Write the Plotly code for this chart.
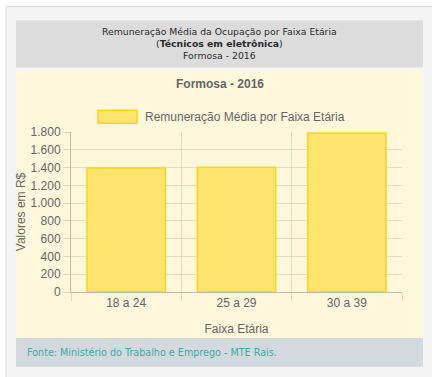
import plotly.graph_objects as go

# Data
faixas = ["18 a 24", "25 a 29", "30 a 39"]
remuneracao = [1395, 1404, 1789]
y_ticks = [0, 200, 400, 600, 800, 1000, 1200, 1400, 1600, 1800]

W, H = 432, 377
L, R, T, B = 71, 402, 131.7, 292  # plot area in pixels


def px(x):
    return (x - L) / (R - L)


def py(y):
    return (B - y) / (B - T)


BAR_FILL = "#fde46c"
BAR_LINE = "#fcd41a"
GREY_TXT = "#666666"
ARIAL = "Liberation Sans, Arial, sans-serif"
VERDANA = "DejaVu Sans, Verdana, sans-serif"

fig = go.Figure()
fig.add_trace(go.Bar(
    x=faixas, y=remuneracao, name="Remuneração Média por Faixa Etária",
    marker=dict(color=BAR_FILL, line=dict(color=BAR_LINE, width=1.5)),
    width=0.71, showlegend=False,
))


def rect(x0, y0, x1, y1, fill, line=None, lw=0, layer="below"):
    return dict(type="rect", xref="paper", yref="paper",
                x0=px(x0), x1=px(x1), y0=py(y1), y1=py(y0),
                fillcolor=fill, line=dict(color=line or fill, width=lw), layer=layer)


shapes = [
    rect(6, 6, 445, 390, "#f4f4f4", "#d9d9d9", 1),
    rect(16, 20, 423, 67, "#dcdcdc"),
    rect(16, 70, 423, 338, "#fff7dc"),
    rect(16, 338, 423, 367, "#d3d9df"),
    rect(98, 110, 137, 123, BAR_FILL, BAR_LINE, 1.5, "above"),
]


def text(x, y, s, size, color, font, xanchor="center"):
    return dict(xref="paper", yref="paper", x=px(x), y=py(y), text=s,
                showarrow=False, xanchor=xanchor, yanchor="middle",
                font=dict(size=size, color=color, family=font))


header = ("Remuneração Média da Ocupação por Faixa Etária<br>"
          "(<b>Técnicos em eletrônica</b>)<br>"
          "Formosa - 2016")

annotations = [
    text(219, 43.5, header, 9.3, "#2a2a2a", VERDANA),
    text(220, 84, "<b>Formosa - 2016</b>", 12, GREY_TXT, ARIAL),
    text(143, 116.5, "Remuneração Média por Faixa Etária", 12, GREY_TXT, ARIAL, "left"),
    text(25, 352.5, "Fonte: Ministério do Trabalho e Emprego - MTE Rais.", 9.6, "#3aa9a9", VERDANA, "left"),
]

fig.update_layout(
    width=W, height=H,
    margin=dict(l=L, r=W - R, t=T, b=H - B, pad=0),
    paper_bgcolor="white", plot_bgcolor="rgba(0,0,0,0)",
    separators=",.",
    shapes=shapes, annotations=annotations,
    showlegend=False,
    font=dict(family=ARIAL, size=12, color=GREY_TXT),
    bargap=0.29,
)
fig.update_xaxes(
    tickson="boundaries", ticks="outside", ticklen=8, tickcolor="rgba(0,0,0,0.12)",
    showgrid=True, gridcolor="rgba(0,0,0,0.1)",
    showline=True, linecolor="rgba(0,0,0,0.25)",
    title=dict(text="Faixa Etária", font=dict(size=12, color=GREY_TXT), standoff=15),
    tickfont=dict(size=12, color=GREY_TXT),
)
fig.update_yaxes(
    range=[0, 1800], tickvals=y_ticks, tickformat=",d",
    ticks="outside", ticklen=7, tickcolor="rgba(0,0,0,0.12)",
    showgrid=True, gridcolor="rgba(0,0,0,0.1)",
    showline=True, linecolor="rgba(0,0,0,0.25)",
    zeroline=False,
    title=dict(text="Valores em R$", font=dict(size=12, color=GREY_TXT), standoff=2),
    tickfont=dict(size=12, color=GREY_TXT),
)

fig.write_html("out.html")
